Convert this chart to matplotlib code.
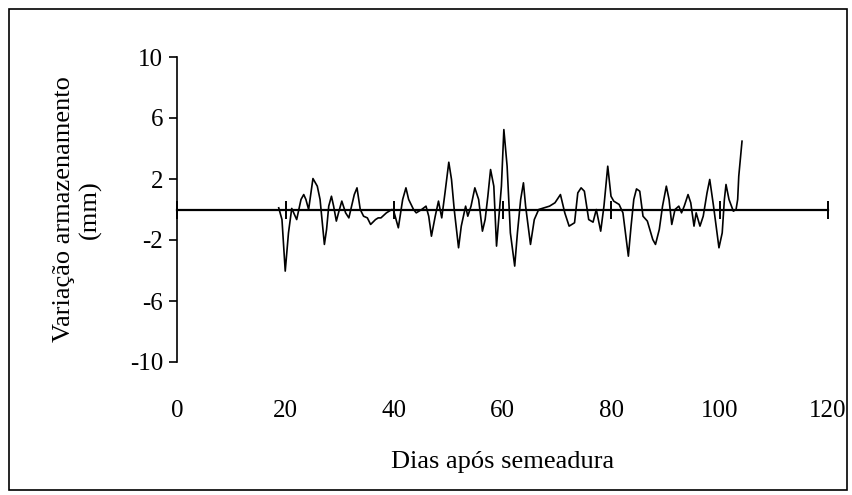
import matplotlib
matplotlib.use("Agg")
import matplotlib.pyplot as plt
from matplotlib.patches import Rectangle

plt.rcParams['font.family'] = ['Liberation Serif', 'DejaVu Serif']

dias = [18.75, 19.35, 19.95, 20.55, 21.15, 22.06, 22.86, 23.36, 23.76, 24.26,
        25.06, 25.86, 26.37, 27.17, 27.57, 27.97, 28.47, 28.87, 29.37, 29.77,
        30.38, 31.08, 31.68, 32.68, 33.18, 33.78, 34.39, 35.09, 35.69, 36.59,
        37.09, 37.59, 38.6, 39.6, 39.9, 40.8, 41.6, 42.2, 42.7, 43.6,
        44.1, 45.1, 45.9, 46.4, 46.9, 47.6, 48.2, 48.8, 49.4, 50.1,
        50.6, 51.1, 51.9, 52.4, 53.2, 53.6, 54.2, 54.9, 55.6, 56.3,
        56.8, 57.3, 57.8, 58.4, 58.9, 59.4, 59.8, 60.25, 60.85, 61.45,
        62.25, 62.75, 63.35, 63.86, 64.26, 65.16, 65.86, 66.67, 67.67, 68.67,
        69.67, 70.68, 71.48, 72.28, 73.28, 73.88, 74.49, 75.09, 75.89, 76.69,
        77.29, 78.1, 78.7, 79.4, 80.0, 80.5, 81.5, 82.2, 83.2, 83.7,
        84.2, 84.7, 85.3, 85.9, 86.7, 87.7, 88.2, 88.9, 89.5, 90.2,
        90.7, 91.2, 91.8, 92.5, 93.0, 93.5, 94.2, 94.7, 95.3, 95.7,
        96.4, 97.0, 97.7, 98.2, 98.9, 99.9, 100.5, 100.9, 101.2, 101.75,
        102.55, 103.05, 103.35, 103.55, 104.15]

variacao = [0.11, -0.66, -4.04, -1.53, 0.07, -0.66, 0.66, 0.98, 0.66, 0.0,
            2.03, 1.53, 0.66, -2.29, -1.31, 0.22, 0.87, 0.22, -0.76, -0.22,
            0.55, -0.22, -0.55, 0.98, 1.42, 0.0, -0.44, -0.55, -0.98, -0.66,
            -0.55, -0.55, -0.22, 0.0, -0.04, -1.2, 0.66, 1.42, 0.66, 0.0,
            -0.22, 0.0, 0.22, -0.44, -1.75, -0.44, 0.55, -0.55, 1.09, 3.1,
            1.97, 0.0, -2.51, -1.09, 0.22, -0.44, 0.22, 1.42, 0.66, -1.42,
            -0.66, 0.87, 2.62, 1.53, -2.4, -0.22, 1.53, 5.24, 2.84, -1.53,
            -3.71, -1.53, 0.66, 1.75, 0.22, -2.29, -0.66, 0.0, 0.11, 0.22,
            0.44, 0.98, -0.22, -1.09, -0.87, 1.09, 1.42, 1.2, -0.66, -0.83,
            0.0, -1.42, 0.22, 2.84, 0.87, 0.55, 0.33, -0.22, -3.06, -1.09,
            0.66, 1.35, 1.2, -0.44, -0.76, -1.97, -2.29, -1.31, 0.22, 1.53,
            0.66, -0.98, 0.0, 0.22, -0.22, 0.22, 0.98, 0.44, -1.09, -0.22,
            -1.09, -0.44, 1.09, 1.97, 0.22, -2.51, -1.53, 0.66, 1.64, 0.66,
            -0.11, 0.0, 0.66, 2.18, 4.48]

x_ticks = [0, 20, 40, 60, 80, 100, 120]
y_ticks = [-10, -6, -2, 2, 6, 10]

W, H = 852, 495
fig = plt.figure(figsize=(W / 100, H / 100), dpi=100)
ax = fig.add_axes([177 / W, 1 - 362 / H, (828 - 177) / W, 305 / H])

ax.plot(dias, variacao, color='black', lw=1.2, solid_joinstyle='round', zorder=3)

ax.set_xlim(0, 120)
ax.set_ylim(-10, 10)

for s in ['right', 'bottom']:
    ax.spines[s].set_visible(False)
ax.spines['top'].set_position(('data', 0))
ax.spines['top'].set_linewidth(1.6)
ax.spines['left'].set_linewidth(1.2)

ax.set_xticks(x_ticks)
ax.set_yticks(y_ticks)
ax.set_yticklabels([str(v) for v in y_ticks])
ax.tick_params(axis='x', bottom=False, top=True, labelbottom=True, labeltop=False,
               direction='inout', length=13, width=1.4, pad=21, labelsize=18)
ax.tick_params(axis='y', direction='out', length=6, width=1.2, pad=4, labelsize=18)

ax.set_xlabel('Dias após semeadura', fontsize=19, labelpad=21)
ax.set_ylabel('Variação armazenamento\n(mm)', fontsize=19, labelpad=20,
              linespacing=1.2)

fig.patches.append(Rectangle((9 / W, 1 - 490 / H), (847 - 9) / W, (490 - 9) / H,
                             transform=fig.transFigure, fill=False,
                             edgecolor='black', lw=1.2))

fig.savefig('out.png', dpi=100)
